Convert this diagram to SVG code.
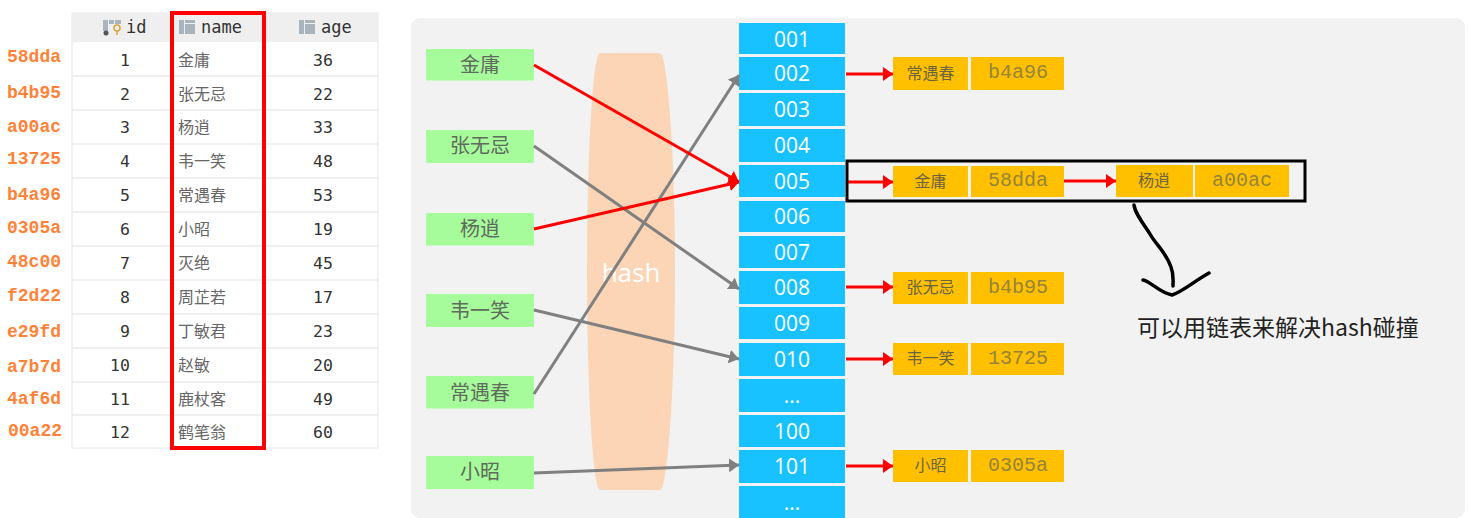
<svg xmlns="http://www.w3.org/2000/svg" width="1469" height="518" viewBox="0 0 1469 518">
<style>
.k{font:bold 18px "Liberation Mono",monospace;fill:#ff8238;text-anchor:middle}
.h{font:17px "DejaVu Sans Mono",monospace;fill:#333;}
.n{font:16.500px "DejaVu Sans Mono",monospace;fill:#333;text-anchor:middle}
.c{font:16px "Noto Sans CJK SC",sans-serif;fill:#666}
.g rect{fill:#a6fb9b}
.g text{font:20px "Noto Sans CJK SC",sans-serif;fill:#5f6b5c;text-anchor:middle}
.b rect{fill:#18c1ff}
.b text{font:21px "Open Sans","Noto Sans",sans-serif;fill:#fff;text-anchor:middle}
.o rect{fill:#ffc000}
.o .t{font:16px "Noto Sans CJK SC",sans-serif;fill:#6b6440;text-anchor:middle}
.o .m{font:20px "Liberation Mono",monospace;fill:#95843c;text-anchor:middle}
.r{stroke:#f00;stroke-width:3;fill:none;marker-end:url(#ar)}
.y{stroke:#808080;stroke-width:3;fill:none;marker-end:url(#ag)}
.l{stroke:#ececec;stroke-width:1.5}
.ic{fill:#aab4bc}
</style>
<defs>
<marker id="ar" markerUnits="userSpaceOnUse" markerWidth="11" markerHeight="14" refX="10" refY="7" orient="auto"><path d="M0 0L10 7L0 14Z" fill="#f00"/></marker>
<marker id="ag" markerUnits="userSpaceOnUse" markerWidth="11" markerHeight="14" refX="10" refY="7" orient="auto"><path d="M0 0L10 7L0 14Z" fill="#808080"/></marker>
</defs>
<rect width="1469" height="518" fill="#fff"/>
<g id="table">
<rect x="72" y="13" width="306" height="435" fill="#fff" stroke="#e8e8e8"/>
<rect x="72" y="13" width="306" height="29" fill="#efefef"/>
<g class="l"><path d="M72 76H378M72 110H378M72 144H378M72 178H378M72 212H378M72 246H378M72 280H378M72 314H378M72 348H378M72 382H378M72 415H378"/></g>
<path class="ic" d="M103 20h5v11h-5zM115 20h6v4h-6zM109 20h5v4h-5z"/><circle cx="106" cy="33" r="2.500" fill="#555"/><circle cx="117" cy="28" r="3" fill="none" stroke="#d9a441" stroke-width="1.500"/><path d="M117 31v4" stroke="#d9a441" stroke-width="1.500"/>
<path class="ic" d="M179 20h5v14h-5zM185 20h10v3h-10zM185 24h10v10h-10z"/>
<path class="ic" d="M299 20h5v14h-5zM305 20h10v3h-10zM305 24h10v10h-10z"/>
<text class="h" x="126" y="33">id</text><text class="h" x="201" y="33">name</text><text class="h" x="321" y="33">age</text>
<text class="k" x="34" y="62">58dda</text><text class="n" x="125" y="66">1</text><text class="c" x="178" y="66">金庸</text><text class="n" x="323" y="66">36</text>
<text class="k" x="34" y="98">b4b95</text><text class="n" x="125" y="100">2</text><text class="c" x="178" y="100">张无忌</text><text class="n" x="323" y="100">22</text>
<text class="k" x="34" y="132">a00ac</text><text class="n" x="125" y="133">3</text><text class="c" x="178" y="133">杨逍</text><text class="n" x="323" y="133">33</text>
<text class="k" x="34" y="164">13725</text><text class="n" x="125" y="167">4</text><text class="c" x="178" y="167">韦一笑</text><text class="n" x="323" y="167">48</text>
<text class="k" x="34" y="200">b4a96</text><text class="n" x="125" y="201">5</text><text class="c" x="178" y="201">常遇春</text><text class="n" x="323" y="201">53</text>
<text class="k" x="34" y="233">0305a</text><text class="n" x="125" y="235">6</text><text class="c" x="178" y="235">小昭</text><text class="n" x="323" y="235">19</text>
<text class="k" x="34" y="267">48c00</text><text class="n" x="125" y="269">7</text><text class="c" x="178" y="269">灭绝</text><text class="n" x="323" y="269">45</text>
<text class="k" x="34" y="301">f2d22</text><text class="n" x="125" y="303">8</text><text class="c" x="178" y="303">周芷若</text><text class="n" x="323" y="303">17</text>
<text class="k" x="34" y="337">e29fd</text><text class="n" x="125" y="337">9</text><text class="c" x="178" y="337">丁敏君</text><text class="n" x="323" y="337">23</text>
<text class="k" x="34" y="372">a7b7d</text><text class="n" x="120" y="371">10</text><text class="c" x="178" y="371">赵敏</text><text class="n" x="323" y="371">20</text>
<text class="k" x="34" y="404">4af6d</text><text class="n" x="120" y="405">11</text><text class="c" x="178" y="405">鹿杖客</text><text class="n" x="323" y="405">49</text>
<text class="k" x="35" y="436">00a22</text><text class="n" x="120" y="438">12</text><text class="c" x="178" y="438">鹤笔翁</text><text class="n" x="323" y="438">60</text>
<rect x="172" y="13" width="92" height="435" fill="none" stroke="#f00" stroke-width="4"/>
</g>
<rect id="panel" x="411" y="18" width="1054" height="500" rx="9" fill="#f2f2f2"/>
<g id="hash">
<path d="M600 53H660C667 53 675 150 675 271C675 392 667 490 660 490H600C593 490 587 392 587 271C587 150 593 53 600 53Z" fill="#fbd5b5"/>
<text x="631" y="282" font-family="Open Sans,Noto Sans,sans-serif" font-size="26" fill="#fff" text-anchor="middle">hash</text>
</g>
<g class="g">
<g id="key1"><rect x="426" y="49" width="108" height="31.500"/><text x="480" y="72">金庸</text></g>
<g id="key2"><rect x="426" y="130" width="108" height="33"/><text x="480" y="153">张无忌</text></g>
<g id="key3"><rect x="426" y="213" width="108" height="32.500"/><text x="480" y="236">杨逍</text></g>
<g id="key4"><rect x="426" y="294" width="108" height="33"/><text x="480" y="318">韦一笑</text></g>
<g id="key5"><rect x="426" y="376" width="108" height="32.500"/><text x="480" y="400">常遇春</text></g>
<g id="key6"><rect x="426" y="456" width="108" height="33"/><text x="480" y="479">小昭</text></g>
</g>
<g class="b">
<g id="b001"><rect x="739" y="23" width="106" height="31"/><text x="792" y="47">001</text></g>
<g id="b002"><rect x="739" y="57" width="106" height="33"/><text x="792" y="81">002</text></g>
<g id="b003"><rect x="739" y="93" width="106" height="33"/><text x="792" y="117">003</text></g>
<g id="b004"><rect x="739" y="129" width="106" height="33"/><text x="792" y="153">004</text></g>
<g id="b005"><rect x="739" y="165" width="106" height="32"/><text x="792" y="189">005</text></g>
<g id="b006"><rect x="739" y="201" width="106" height="31"/><text x="792" y="224">006</text></g>
<g id="b007"><rect x="739" y="236" width="106" height="32"/><text x="792" y="260">007</text></g>
<g id="b008"><rect x="739" y="271" width="106" height="33"/><text x="792" y="295">008</text></g>
<g id="b009"><rect x="739" y="307" width="106" height="32"/><text x="792" y="331">009</text></g>
<g id="b010"><rect x="739" y="343" width="106" height="33"/><text x="792" y="367">010</text></g>
<g id="b011"><rect x="739" y="379" width="106" height="33"/><text x="792" y="403">...</text></g>
<g id="b100"><rect x="739" y="415" width="106" height="32"/><text x="792" y="439">100</text></g>
<g id="b101"><rect x="739" y="450" width="106" height="33"/><text x="792" y="474">101</text></g>
<g id="b102"><rect x="739" y="486" width="106" height="32"/><text x="792" y="510">...</text></g>
</g>
<g class="o">
<g id="e1"><rect x="893" y="57" width="75" height="33"/><text class="t" x="930.500" y="79">常遇春</text><rect x="971" y="57" width="93" height="33"/><text class="m" x="1018" y="78">b4a96</text></g>
<g id="e2"><rect x="893" y="166" width="75" height="31"/><text class="t" x="930.500" y="187">金庸</text><rect x="971" y="166" width="93" height="31"/><text class="m" x="1018" y="186">58dda</text></g>
<g id="e3"><rect x="1116" y="165" width="77" height="32"/><text class="t" x="1154" y="186">杨逍</text><rect x="1195" y="165" width="94" height="32"/><text class="m" x="1242" y="186">a00ac</text></g>
<g id="e4"><rect x="893" y="272" width="75" height="32"/><text class="t" x="930.500" y="293">张无忌</text><rect x="971" y="272" width="93" height="32"/><text class="m" x="1018" y="293">b4b95</text></g>
<g id="e5"><rect x="893" y="343" width="75" height="32"/><text class="t" x="930.500" y="364">韦一笑</text><rect x="971" y="343" width="93" height="32"/><text class="m" x="1018" y="364">13725</text></g>
<g id="e6"><rect x="893" y="450" width="75" height="32"/><text class="t" x="930.500" y="471">小昭</text><rect x="971" y="450" width="93" height="32"/><text class="m" x="1018" y="471">0305a</text></g>
</g>
<g id="connectors">
<path class="y" d="M534 146L739 289"/>
<path class="y" d="M534 310L739 359"/>
<path class="y" d="M534 394L739 75"/>
<path class="y" d="M534 473L739 465"/>
<path class="r" d="M534 65L739 182"/>
<path class="r" d="M534 229L739 182"/>
<path class="r" d="M846 74H893"/>
<path class="r" d="M847 182H893"/>
<path class="r" d="M1064 181H1116"/>
<path class="r" d="M846 287H893"/>
<path class="r" d="M846 359H893"/>
<path class="r" d="M846 466H893"/>
</g>
<g id="annotation">
<rect x="847" y="161" width="458" height="40" fill="none" stroke="#000" stroke-width="3"/>
<path d="M1134 205C1135 213 1142 222 1150 234C1156 245 1166 252 1171 267C1174 275 1173 280 1173 286M1143 280C1150 281 1160 293 1172 295C1182 292 1196 280 1209 273" fill="none" stroke="#000" stroke-width="3.500" stroke-linecap="round"/>
<text x="1137" y="336" font-family="Noto Sans CJK SC,sans-serif" font-size="23" fill="#222">可以用链表来解决hash碰撞</text>
</g>
</svg>
